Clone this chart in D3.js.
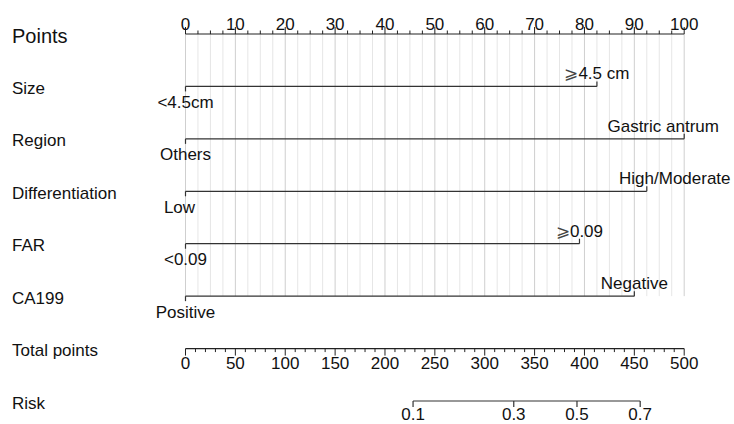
<!DOCTYPE html>
<html>
<head>
<meta charset="utf-8">
<script src="https://cdn.jsdelivr.net/npm/d3@7"></script>
<style>
  body { margin: 0; background: #fff; }
  text { font-family: "Liberation Sans", Arial, Helvetica, sans-serif; fill: #111; }
</style>
</head>
<body>
<svg id="chart" width="734" height="424"></svg>
<script>
// ---- Nomogram data ----
const rowNames = ["Points", "Size", "Region", "Differentiation", "FAR", "CA199", "Total points", "Risk"];
const predictorNames = ["Size", "Region", "Differentiation", "FAR", "CA199"];
const predictorLevels = [
  ["<4.5cm", "\u2A7E4.5 cm"],
  ["Others", "Gastric antrum"],
  ["Low", "High/Moderate"],
  ["<0.09", "\u2A7E0.09"],
  ["Positive", "Negative"]
];
const predictorPoints = [
  [0, 82.5],
  [0, 100],
  [0, 92.5],
  [0, 79],
  [0, 90]
];
const pointsTicks = [0, 10, 20, 30, 40, 50, 60, 70, 80, 90, 100];
const totalTicks = [0, 50, 100, 150, 200, 250, 300, 350, 400, 450, 500];
const riskTicks = [0.1, 0.3, 0.5, 0.7];
// total points at 50% risk, and points per unit of log-odds
const riskIntercept = 392.5;
const riskSlope = 74.8;

// ---- Layout ----
const W = 734, H = 424;
const x0 = 185.5, x1 = 684.2;
const rowTop = 34, rowStep = 52.43;
const labelNudge = { "Gastric antrum": -21, "High/Moderate": 28, "Low": -6 };
const fs = 17;

const svg = d3.select("#chart");
svg.append("rect").attr("width", W).attr("height", H).attr("fill", "#fff");

const xPts = d3.scaleLinear().domain([0, 100]).range([x0, x1]);
const xTot = d3.scaleLinear().domain([0, 500]).range([x0, x1]);
const yRow = d3.scaleLinear().domain([0, 1]).range([rowTop, rowTop + rowStep]);
const totalFromRisk = p => riskIntercept + riskSlope * Math.log(p / (1 - p));

// Vertical grid behind predictor rows
const gridVals = d3.range(0, 100.01, 2.5);
const gridBottom = yRow(predictorNames.length);
svg.append("g").selectAll("line").data(gridVals).join("line")
  .attr("x1", d => xPts(d)).attr("x2", d => xPts(d))
  .attr("y1", yRow(0)).attr("y2", gridBottom)
  .attr("stroke", d => (d % 10 === 0 ? "#cfcfcf" : "#e6e6e6"))
  .attr("stroke-width", 1);

// Row titles on the left
svg.append("g").selectAll("text").data(rowNames).join("text")
  .attr("x", 12)
  .attr("y", (d, i) => yRow(i) + (i === 0 ? 9 : 7.5))
  .attr("font-size", (d, i) => (i === 0 ? 20 : fs))
  .text(d => d);

// Points axis (ticks upward, labels above)
const ptsAxis = svg.append("g").attr("transform", `translate(0,${yRow(0)})`);
ptsAxis.append("line").attr("x1", x0).attr("x2", x1).attr("stroke", "#222").attr("stroke-width", 1.2);
ptsAxis.selectAll(".minor").data(gridVals).join("line")
  .attr("x1", d => xPts(d)).attr("x2", d => xPts(d))
  .attr("y1", 0).attr("y2", d => (d % 10 === 0 ? -7 : -3.5))
  .attr("stroke", "#222").attr("stroke-width", 1);
ptsAxis.selectAll("text").data(pointsTicks).join("text")
  .attr("x", d => xPts(d)).attr("y", -4)
  .attr("text-anchor", "middle").attr("font-size", fs)
  .text(d => d);

// Predictor lines with level labels (first level below, second above)
predictorNames.forEach((name, i) => {
  const y = yRow(i + 1);
  const pts = predictorPoints[i];
  const g = svg.append("g").attr("transform", `translate(0,${y})`);
  g.append("line")
    .attr("x1", xPts(d3.min(pts))).attr("x2", xPts(d3.max(pts)))
    .attr("stroke", "#333").attr("stroke-width", 1.2);
  predictorLevels[i].forEach((lev, j) => {
    const below = j % 2 === 0;
    const px = xPts(pts[j]);
    g.append("line")
      .attr("x1", px).attr("x2", px)
      .attr("y1", 0).attr("y2", below ? 5 : -5)
      .attr("stroke", "#333").attr("stroke-width", 1.2);
    const t = g.append("text")
      .attr("x", px + (labelNudge[lev] || 0))
      .attr("y", below ? 21.5 : -7)
      .attr("text-anchor", "middle").attr("font-size", fs);
    if (lev.startsWith("\u2A7E")) {
      t.append("tspan").attr("font-family", "DejaVu Sans").attr("font-weight", 300)
        .attr("fill", "#444").text("\u2A7E");
      t.append("tspan").text(lev.slice(1));
    } else {
      t.text(lev);
    }
  });
});

// Total points axis (ticks downward, labels below)
const totAxis = svg.append("g").attr("transform", `translate(0,${yRow(6)})`);
totAxis.append("line").attr("x1", x0).attr("x2", x1).attr("stroke", "#222").attr("stroke-width", 1.2);
totAxis.selectAll(".tk").data(d3.range(0, 501, 10)).join("line")
  .attr("x1", d => xTot(d)).attr("x2", d => xTot(d))
  .attr("y1", 0).attr("y2", d => (d % 50 === 0 ? 7 : 3.5))
  .attr("stroke", "#222").attr("stroke-width", 1);
totAxis.selectAll("text").data(totalTicks).join("text")
  .attr("x", d => xTot(d)).attr("y", 20.5)
  .attr("text-anchor", "middle").attr("font-size", fs)
  .text(d => d);

// Risk axis
const riskAxis = svg.append("g").attr("transform", `translate(0,${yRow(7)})`);
riskAxis.append("line")
  .attr("x1", xTot(totalFromRisk(d3.min(riskTicks))))
  .attr("x2", xTot(totalFromRisk(d3.max(riskTicks))))
  .attr("stroke", "#333").attr("stroke-width", 1.2);
riskAxis.selectAll(".tk").data(riskTicks).join("line")
  .attr("x1", d => xTot(totalFromRisk(d))).attr("x2", d => xTot(totalFromRisk(d)))
  .attr("y1", 0).attr("y2", 6)
  .attr("stroke", "#333").attr("stroke-width", 1.2);
riskAxis.selectAll("text").data(riskTicks).join("text")
  .attr("x", d => xTot(totalFromRisk(d))).attr("y", 19)
  .attr("text-anchor", "middle").attr("font-size", fs)
  .text(d => d3.format(".1f")(d));
</script>
</body>
</html>
